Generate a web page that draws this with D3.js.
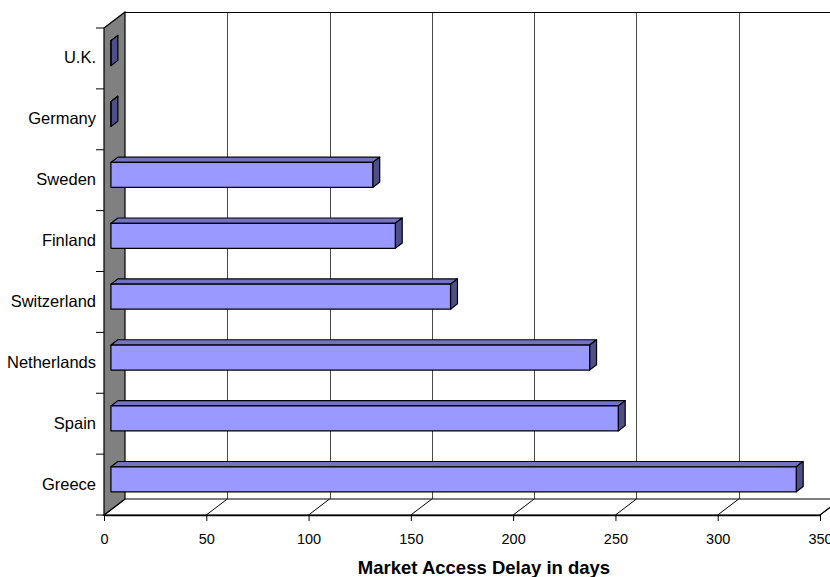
<!DOCTYPE html>
<html>
<head>
<meta charset="utf-8">
<script src="https://cdn.jsdelivr.net/npm/d3@7"></script>
<style>
  body { margin: 0; background: #fff; }
  svg { display: block; font-family: "Liberation Sans", Arial, Helvetica, sans-serif; }
</style>
</head>
<body>
<div id="chart"></div>
<script>
{
  const countries = ["U.K.", "Germany", "Sweden", "Finland", "Switzerland", "Netherlands", "Spain", "Greece"];
  const delays = [0, 0, 128, 139, 166, 234, 248, 335];
  const xTicks = [0, 50, 100, 150, 200, 250, 300, 350];
  const AXIS_TITLE = "Market Access Delay in days";

  const width = 830;
  const height = 577;

  // 3d box: front plane of the floor, and how far back the back wall sits
  const originX = 104;
  const floorY = 515;
  const topY = 28;
  const depthX = 21;
  const depthY = -16;

  // bar slab occupies this slice of the depth
  const barFront = 0.33;
  const barBack = 0.66;
  const barHalf = 12.5;

  const COLOR_FRONT = "#9999ff";
  const COLOR_TOP = "#7373c2";
  const COLOR_SIDE = "#4f4f88";
  const COLOR_WALL = "#808080";

  const container = d3.select("#chart");
  container.selectAll("*").remove();

  const svg = container.append("svg")
    .attr("width", width)
    .attr("height", height);

  const x = d3.scaleLinear()
    .domain([0, 350])
    .range([0, 716]);

  const y = d3.scaleBand()
    .domain(countries)
    .range([topY, floorY]);

  // project a value / screen y / depth fraction to a point
  const pt = (v, yy, f) => [originX + depthX * f + x(v), yy + depthY * f];
  const poly = pts => "M" + pts.map(p => p.join(",")).join("L") + "Z";

  // back wall
  const backLeft = originX + depthX;
  const backTop = topY + depthY;
  const backBottom = floorY + depthY;

  svg.append("rect")
    .attr("x", backLeft)
    .attr("y", backTop)
    .attr("width", width)
    .attr("height", backBottom - backTop)
    .attr("fill", "#fff");

  // gridlines on the back wall
  svg.append("g")
    .selectAll("line")
    .data(xTicks.slice(1))
    .join("line")
    .attr("x1", d => Math.round(pt(d, 0, 1)[0]) + 0.5)
    .attr("x2", d => Math.round(pt(d, 0, 1)[0]) + 0.5)
    .attr("y1", backTop)
    .attr("y2", backBottom)
    .attr("stroke", "#4a4a4a")
    .attr("stroke-width", 1);

  svg.append("line")
    .attr("x1", backLeft).attr("x2", width)
    .attr("y1", backTop + 0.5).attr("y2", backTop + 0.5)
    .attr("stroke", "#000")
    .attr("stroke-width", 1.2);

  // floor
  svg.append("path")
    .attr("d", poly([pt(0, floorY, 0), pt(350, floorY, 0), pt(350, floorY, 1), pt(0, floorY, 1)]))
    .attr("fill", "#fff")
    .attr("stroke", "#000")
    .attr("stroke-width", 1.2);

  svg.append("g")
    .selectAll("line")
    .data(xTicks)
    .join("line")
    .attr("x1", d => pt(d, floorY, 0)[0])
    .attr("y1", floorY)
    .attr("x2", d => pt(d, floorY, 1)[0])
    .attr("y2", floorY + depthY)
    .attr("stroke", "#000")
    .attr("stroke-width", 1);

  // left side wall
  svg.append("path")
    .attr("d", poly([[originX, topY], [backLeft, backTop], [backLeft, backBottom], [originX, floorY]]))
    .attr("fill", COLOR_WALL)
    .attr("stroke", "#000")
    .attr("stroke-width", 1.2);

  // bars
  const bars = svg.append("g")
    .selectAll("g")
    .data(countries.map((c, i) => ({ country: c, value: delays[i] })))
    .join("g")
    .attr("stroke", "#000")
    .attr("stroke-width", 1.2)
    .attr("stroke-linejoin", "round");

  const cy = d => y(d.country) + y.bandwidth() / 2;

  bars.append("path")
    .attr("fill", COLOR_TOP)
    .attr("d", d => poly([
      pt(0, cy(d) - barHalf, barFront), pt(d.value, cy(d) - barHalf, barFront),
      pt(d.value, cy(d) - barHalf, barBack), pt(0, cy(d) - barHalf, barBack)
    ]));

  bars.append("path")
    .attr("fill", COLOR_SIDE)
    .attr("d", d => poly([
      pt(d.value, cy(d) - barHalf, barFront), pt(d.value, cy(d) - barHalf, barBack),
      pt(d.value, cy(d) + barHalf, barBack), pt(d.value, cy(d) + barHalf, barFront)
    ]));

  bars.append("path")
    .attr("fill", COLOR_FRONT)
    .attr("d", d => poly([
      pt(0, cy(d) - barHalf, barFront), pt(d.value, cy(d) - barHalf, barFront),
      pt(d.value, cy(d) + barHalf, barFront), pt(0, cy(d) + barHalf, barFront)
    ]));

  // category axis: ticks at band edges, labels at band centres
  const edges = countries.map(c => y(c)).concat([floorY]);
  svg.append("g")
    .selectAll("line")
    .data(edges)
    .join("line")
    .attr("x1", originX - 8)
    .attr("x2", originX)
    .attr("y1", d => d)
    .attr("y2", d => d)
    .attr("stroke", "#000")
    .attr("stroke-width", 1);

  svg.append("g")
    .selectAll("text")
    .data(countries)
    .join("text")
    .attr("x", originX - 8)
    .attr("y", d => y(d) + y.bandwidth() / 2 - 1)
    .attr("text-anchor", "end")
    .attr("dominant-baseline", "central")
    .attr("font-size", 16.5)
    .attr("fill", "#000")
    .text(d => d);

  // value axis along the front edge of the floor
  const xAxis = svg.append("g")
    .attr("transform", `translate(${originX},${floorY})`)
    .call(d3.axisBottom(x).tickValues(xTicks).tickSize(6).tickPadding(13).tickSizeOuter(0));

  xAxis.select(".domain").attr("stroke", "#000").attr("stroke-width", 1.3);
  xAxis.selectAll(".tick line").attr("stroke", "#000").attr("stroke-width", 1);
  xAxis.selectAll(".tick text")
    .attr("font-size", 14.5)
    .attr("font-family", "\"Liberation Sans\", Arial, sans-serif")
    .attr("fill", "#000");

  svg.append("text")
    .attr("x", 484)
    .attr("y", 574)
    .attr("text-anchor", "middle")
    .attr("font-size", 18.5)
    .attr("font-weight", "bold")
    .attr("fill", "#000")
    .text(AXIS_TITLE);
}
</script>
</body>
</html>
